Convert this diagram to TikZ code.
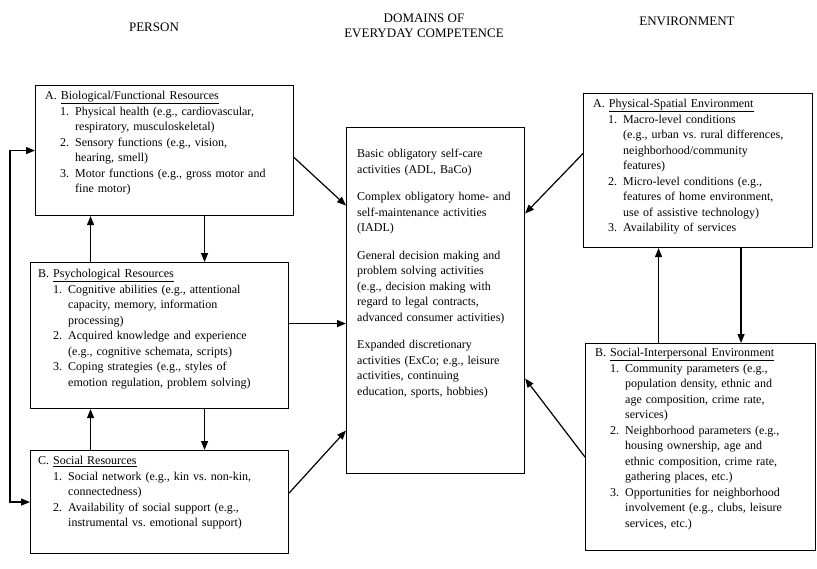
\documentclass[tikz,border=0pt]{standalone}
\usepackage{fontspec}
\setmainfont{Liberation Serif}
\usepackage{tikz}
\usetikzlibrary{arrows.meta, positioning, calc}
\frenchspacing

% numbered entry with hanging text
\newcommand{\entry}[2]{\par\leftskip=30pt\noindent\llap{\makebox[15pt][l]{#1}}#2}

\begin{document}
\begin{tikzpicture}[x=1pt, y=-1pt,
  box/.style={draw, line width=1.1pt, anchor=north west, inner sep=0pt},
  boxtext/.style={anchor=north west, inner sep=0pt, text width=#1, align=left, font=\fontsize{12}{15.5}\selectfont},
  boxtext/.default=240pt,
  header/.style={font=\fontsize{13}{15}\selectfont, align=center},
  arr/.style={line width=1.2pt, -{Triangle[length=9pt, width=7pt]}}]
  \useasboundingbox (0,0) rectangle (817,568);

  % Column headers
  \node[header] (person) at (154,27) {PERSON};
  \node[header] (domains) at (424,26) {DOMAINS OF\\EVERYDAY COMPETENCE};
  \node[header] (environment) at (687,21) {ENVIRONMENT};

  % Person (left)
  \node[box, minimum width=258pt, minimum height=130pt] (bio) at (35,85) {};
  \node[boxtext] (bio text) at (45,91) {A. \underline{Biological/Functional Resources}
    \entry{1.}{Physical health (e.g., cardiovascular,\newline respiratory, musculoskeletal)}
    \entry{2.}{Sensory functions (e.g., vision,\newline hearing, smell)}
    \entry{3.}{Motor functions (e.g., gross motor and\newline fine motor)}\par};

  \node[box, minimum width=258pt, minimum height=146pt] (psy) at (30,262) {};
  \node[boxtext] (psy text) at (38,269) {B. \underline{Psychological Resources}
    \entry{1.}{Cognitive abilities (e.g., attentional\newline capacity, memory, information\newline processing)}
    \entry{2.}{Acquired knowledge and experience\newline (e.g., cognitive schemata, scripts)}
    \entry{3.}{Coping strategies (e.g., styles of\newline emotion regulation, problem solving)}\par};

  \node[box, minimum width=258pt, minimum height=103pt] (soc) at (30,450) {};
  \node[boxtext] (soc text) at (38,456) {C. \underline{Social Resources}
    \entry{1.}{Social network (e.g., kin vs. non-kin,\newline connectedness)}
    \entry{2.}{Availability of social support (e.g.,\newline instrumental vs. emotional support)}\par};

  % Domains (middle)
  \node[box, minimum width=178pt, minimum height=346pt] (dom) at (346,127) {};
  \node[boxtext=165pt] (dom text) at (357,149) {Basic obligatory self-care\newline activities (ADL, BaCo)\par\vspace{12pt}
    Complex obligatory home- and\newline self-maintenance activities\newline (IADL)\par\vspace{12pt}
    General decision making and\newline problem solving activities\newline (e.g., decision making with\newline regard to legal contracts,\newline advanced consumer activities)\par\vspace{12pt}
    Expanded discretionary\newline activities (ExCo; e.g., leisure\newline activities, continuing\newline education, sports, hobbies)};

  % Environment (right)
  \node[box, minimum width=229pt, minimum height=154pt] (phys) at (583,93) {};
  \node[boxtext=215pt] (phys text) at (593,99) {A. \underline{Physical-Spatial Environment}
    \entry{1.}{Macro-level conditions\newline (e.g., urban vs. rural differences,\newline neighborhood/community\newline features)}
    \entry{2.}{Micro-level conditions (e.g.,\newline features of home environment,\newline use of assistive technology)}
    \entry{3.}{Availability of services}\par};

  \node[box, minimum width=230pt, minimum height=207pt] (inter) at (585,343) {};
  \node[boxtext=215pt] (inter text) at (595,348) {B. \underline{Social-Interpersonal Environment}
    \entry{1.}{Community parameters (e.g.,\newline population density, ethnic and\newline age composition, crime rate,\newline services)}
    \entry{2.}{Neighborhood parameters (e.g.,\newline housing ownership, age and\newline ethnic composition, crime rate,\newline gathering places, etc.)}
    \entry{3.}{Opportunities for neighborhood\newline involvement (e.g., clubs, leisure\newline services, etc.)}\par};

  % Links among person resources
  \draw[arr] ([xshift=-69pt]psy.north) -- ([xshift=-69pt]psy.north |- bio.south);
  \draw[arr] ([xshift=40pt]bio.south) -- ([xshift=40pt]bio.south |- psy.north);
  \draw[arr] ([xshift=-69pt]soc.north) -- ([xshift=-69pt]soc.north |- psy.south);
  \draw[arr] ([xshift=45pt]psy.south) -- ([xshift=45pt]psy.south |- soc.north);
  \draw[line width=1.2pt, {Triangle[length=9pt, width=7pt]}-{Triangle[length=9pt, width=7pt]}]
    (bio.west) -- ++(-25,0) |- (soc.west);

  % Links into the domains
  \draw[arr] ([yshift=-7pt]bio.east) -- ([yshift=95pt]dom.west);
  \draw[arr] ([yshift=12pt]psy.east) -- ([yshift=12pt]psy.east -| dom.west);
  \draw[arr] ([yshift=9pt]soc.east) -- ([yshift=-130pt]dom.west);
  \draw[arr] ([yshift=17pt]phys.west) -- ([yshift=87pt]dom.east);
  \draw[arr] ([yshift=-10pt]inter.west) -- ([yshift=-78pt]dom.east);

  % Links among environment parts
  \draw[arr] ([xshift=-42pt]inter.north) -- ([xshift=-42pt]inter.north |- phys.south);
  \draw[arr] ([xshift=43pt]phys.south) -- ([xshift=43pt]phys.south |- inter.north);
\end{tikzpicture}
\end{document}
